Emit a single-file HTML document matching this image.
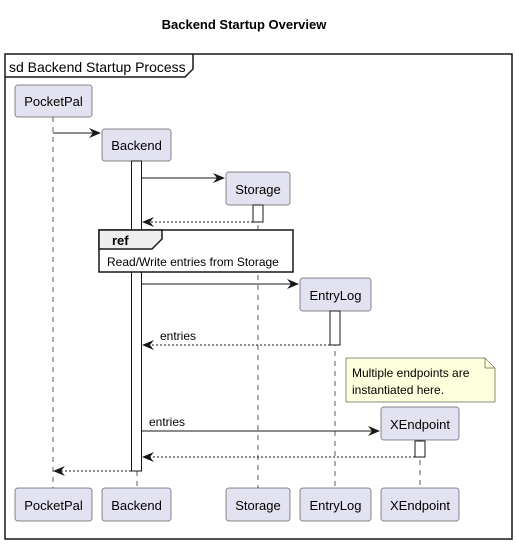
<!DOCTYPE html>
<html><head><meta charset="utf-8"><style>
html,body{margin:0;padding:0;background:#fff;}
svg{display:block;}
text{font-family:"Liberation Sans",sans-serif;fill:#000;}
</style></head><body>
<svg width="516" height="544" viewBox="0 0 516 544" xmlns="http://www.w3.org/2000/svg">
<defs>
<marker id="a" viewBox="0 0 12 10" refX="11" refY="5" markerWidth="12" markerHeight="10" markerUnits="userSpaceOnUse" orient="auto">
<path d="M0,0 L12,5 L0,10 L4,5 Z" fill="#181818"/>
</marker>
</defs>
<text x="244" y="29" font-size="13" font-weight="bold" text-anchor="middle">Backend Startup Overview</text>
<rect x="5" y="54" width="507" height="485" fill="none" stroke="#181818" stroke-width="1.5"/>
<path d="M5,77 H185 L193,69 V54" fill="none" stroke="#181818" stroke-width="1.5"/>
<text x="9" y="72" font-size="14">sd Backend Startup Process</text>

<g stroke="#181818" stroke-width="0.7" stroke-dasharray="5,5" fill="none">
<line x1="53" y1="117" x2="53" y2="488"/>
<line x1="137" y1="161" x2="137" y2="488"/>
<line x1="258" y1="205" x2="258" y2="488"/>
<line x1="335" y1="311" x2="335" y2="488"/>
<line x1="420" y1="440" x2="420" y2="488"/>
</g>

<g fill="#E2E2F0" stroke="#181818" stroke-width="0.5">
<rect x="15" y="85" width="77" height="32" rx="2.5"/>
<rect x="102" y="129" width="69" height="32" rx="2.5"/>
<rect x="226" y="172" width="64" height="33" rx="2.5"/>
<rect x="300" y="278" width="71" height="33" rx="2.5"/>
<rect x="381" y="407" width="78" height="33" rx="2.5"/>
<rect x="15" y="488" width="77" height="33" rx="2.5"/>
<rect x="102" y="488" width="69" height="33" rx="2.5"/>
<rect x="226" y="488" width="64" height="33" rx="2.5"/>
<rect x="300" y="488" width="71" height="33" rx="2.5"/>
<rect x="381" y="488" width="78" height="33" rx="2.5"/>
</g>
<g font-size="13" text-anchor="middle">
<text x="53.5" y="106">PocketPal</text>
<text x="136.5" y="150">Backend</text>
<text x="258" y="194">Storage</text>
<text x="335.5" y="300">EntryLog</text>
<text x="420" y="429">XEndpoint</text>
<text x="53.5" y="510">PocketPal</text>
<text x="136.5" y="510">Backend</text>
<text x="258" y="510">Storage</text>
<text x="335.5" y="510">EntryLog</text>
<text x="420" y="510">XEndpoint</text>
</g>

<g fill="#fff" stroke="#181818" stroke-width="1">
<rect x="131.5" y="161" width="10" height="310"/>
<rect x="253" y="205" width="10" height="17"/>
<rect x="330" y="311" width="10" height="34"/>
<rect x="415" y="441" width="10" height="16"/>
</g>

<g stroke="#181818" stroke-width="1" fill="none">
<line x1="53" y1="133" x2="100" y2="133" marker-end="url(#a)"/>
<line x1="142" y1="178" x2="224" y2="178" marker-end="url(#a)"/>
<line x1="253" y1="222" x2="143" y2="222" stroke-dasharray="2,2" marker-end="url(#a)"/>
<line x1="142" y1="284" x2="298" y2="284" marker-end="url(#a)"/>
<line x1="330" y1="345" x2="143" y2="345" stroke-dasharray="2,2" marker-end="url(#a)"/>
<line x1="142" y1="431" x2="379" y2="431" marker-end="url(#a)"/>
<line x1="415" y1="457" x2="143" y2="457" stroke-dasharray="2,2" marker-end="url(#a)"/>
<line x1="131" y1="471" x2="54" y2="471" stroke-dasharray="2,2" marker-end="url(#a)"/>
</g>
<text x="160" y="340" font-size="12">entries</text>
<text x="149" y="426" font-size="12">entries</text>

<rect x="99" y="230" width="194" height="42" fill="#fff" stroke="#181818" stroke-width="1.5"/>
<path d="M99,230 V249 H152 L162,239 V230 Z" fill="#EEEEEE" stroke="#181818" stroke-width="1.5"/>
<text x="112" y="245" font-size="13" font-weight="bold">ref</text>
<text x="107" y="266" font-size="12">Read/Write entries from Storage</text>

<path d="M346,358 H485 L495,368 V402 H346 Z" fill="#FEFFDD" stroke="#181818" stroke-width="0.5"/>
<path d="M485,358 V368 H495" fill="none" stroke="#181818" stroke-width="0.5"/>
<text x="352" y="377" font-size="12">Multiple endpoints are</text>
<text x="352" y="394" font-size="12">instantiated here.</text>
</svg>
</body></html>
